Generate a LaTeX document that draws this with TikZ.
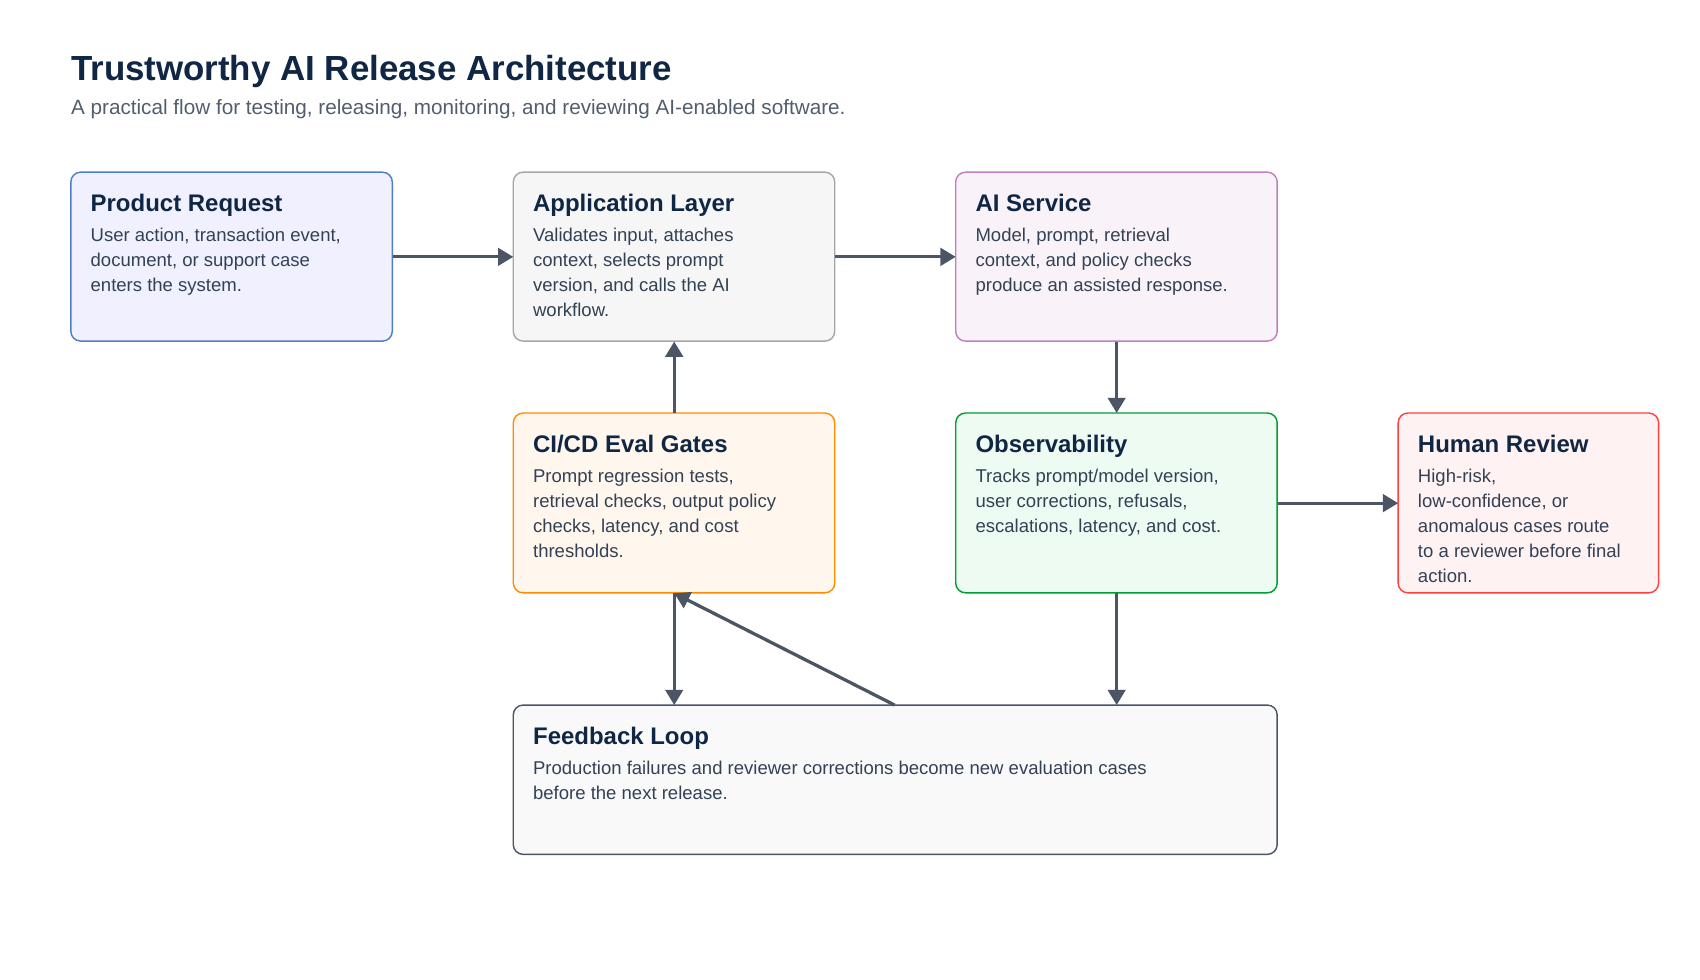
\documentclass[tikz,border=0pt]{standalone}
\usepackage{fontspec}
\setmainfont{Liberation Sans}
\usetikzlibrary{arrows.meta}
\definecolor{ink}{HTML}{0F2744}
\definecolor{body}{HTML}{334155}
\definecolor{arr}{HTML}{4B5563}
\tikzset{
  box/.style={draw=#1!80!black, line width=1.2pt, rounded corners=9pt},
  ttl/.style={anchor=base west, font=\fontsize{22}{26}\selectfont\bfseries, text=ink, inner sep=0},
  bdy/.style={anchor=north west, font=\fontsize{17}{23}\selectfont, text=body, inner sep=0, align=left},
  conn/.style={draw=arr, line width=3pt, -{Triangle[length=14pt,width=16pt]}},
}
\newcommand{\mybox}[8]{% name, x1,y1,x2,y2, fill, draw, title/body
  \draw[line width=1.3pt, draw=#7, fill=#6, rounded corners=9pt] (#2,-#3) rectangle (#4,-#5);
  \coordinate (#1-nw) at (#2,-#3); \coordinate (#1-se) at (#4,-#5);
  #8
}
\begin{document}
\begin{tikzpicture}[x=1pt,y=1pt]
\useasboundingbox[fill=white] (0,0) rectangle (1560,-899);
\node[anchor=base west, inner sep=0, font=\fontsize{32}{36}\selectfont\bfseries, text=ink] (title) at (65,-74) {Trustworthy AI Release Architecture};
\node[anchor=base west, inner sep=0, font=\fontsize{19}{22}\selectfont, text=body!85!white] (sub) at (65,-105) {A practical flow for testing, releasing, monitoring, and reviewing AI-enabled software.};
% boxes
\path[draw=blue!60!cyan!70!black!70, fill=blue!6, line width=1.3pt, rounded corners=9pt] (65,-158) rectangle (360,-313);
\node[draw=none,minimum width=295pt,minimum height=155pt,inner sep=0,anchor=north west] (pr) at (65,-158) {};
\node[ttl] (prt) at (83,-194) {Product Request};
\node[bdy] (prb) at (83,-209) {User action, transaction event,\\document, or support case\\enters the system.};

\path[draw=gray!70, fill=gray!7, line width=1.3pt, rounded corners=9pt] (471,-158) rectangle (766,-313);
\node[minimum width=295pt,minimum height=155pt,inner sep=0,anchor=north west] (al) at (471,-158) {};
\node[ttl] (alt) at (489,-194) {Application Layer};
\node[bdy] (alb) at (489,-209) {Validates input, attaches\\context, selects prompt\\version, and calls the AI\\workflow.};

\path[draw=violet!50!white, fill=violet!5, line width=1.3pt, rounded corners=9pt] (877,-158) rectangle (1172,-313);
\node[minimum width=295pt,minimum height=155pt,inner sep=0,anchor=north west] (ai) at (877,-158) {};
\node[ttl] (ait) at (895,-194) {AI Service};
\node[bdy] (aib) at (895,-209) {Model, prompt, retrieval\\context, and policy checks\\produce an assisted response.};

\path[draw=orange!90!yellow, fill=orange!7, line width=1.3pt, rounded corners=9pt] (471,-379) rectangle (766,-544);
\node[minimum width=295pt,minimum height=165pt,inner sep=0,anchor=north west] (ci) at (471,-379) {};
\node[ttl] (cit) at (489,-415) {CI/CD Eval Gates};
\node[bdy] (cib) at (489,-430) {Prompt regression tests,\\retrieval checks, output policy\\checks, latency, and cost\\thresholds.};

\path[draw=green!55!teal!80!black, fill=green!50!teal!7, line width=1.3pt, rounded corners=9pt] (877,-379) rectangle (1172,-544);
\node[minimum width=295pt,minimum height=165pt,inner sep=0,anchor=north west] (ob) at (877,-379) {};
\node[ttl] (obt) at (895,-415) {Observability};
\node[bdy] (obb) at (895,-430) {Tracks prompt/model version,\\user corrections, refusals,\\escalations, latency, and cost.};

\path[draw=red!75!white, fill=red!5, line width=1.3pt, rounded corners=9pt] (1283,-379) rectangle (1522,-544);
\node[minimum width=239pt,minimum height=165pt,inner sep=0,anchor=north west] (hr) at (1283,-379) {};
\node[ttl] (hrt) at (1301,-415) {Human Review};
\node[bdy] (hrb) at (1301,-430) {High-risk,\\low-confidence, or\\anomalous cases route\\to a reviewer before final\\action.};

\path[draw=arr, fill=gray!5, line width=1.3pt, rounded corners=9pt] (471,-647) rectangle (1172,-784);
\node[minimum width=701pt,minimum height=137pt,inner sep=0,anchor=north west] (fb) at (471,-647) {};
\node[ttl] (fbt) at (489,-683) {Feedback Loop};
\node[bdy] (fbb) at (489,-698) {Production failures and reviewer corrections become new evaluation cases\\before the next release.};

% connectors
\draw[conn] (pr.east) -- (al.west);
\draw[conn] (al.east) -- (ai.west);
\draw[conn] (ai.south) -- (ob.north);
\draw[conn] (ci.north) -- (al.south);
\draw[conn] (ob.east) -- (hr.west);
\draw[conn] (ci.south) -- (ci.south |- fb.north);
\draw[conn] (ob.south) -- (ob.south |- fb.north);
\coordinate (fbs) at (821,-647);
\draw[conn] (fbs) -- (ci.south);
\end{tikzpicture}
\end{document}
